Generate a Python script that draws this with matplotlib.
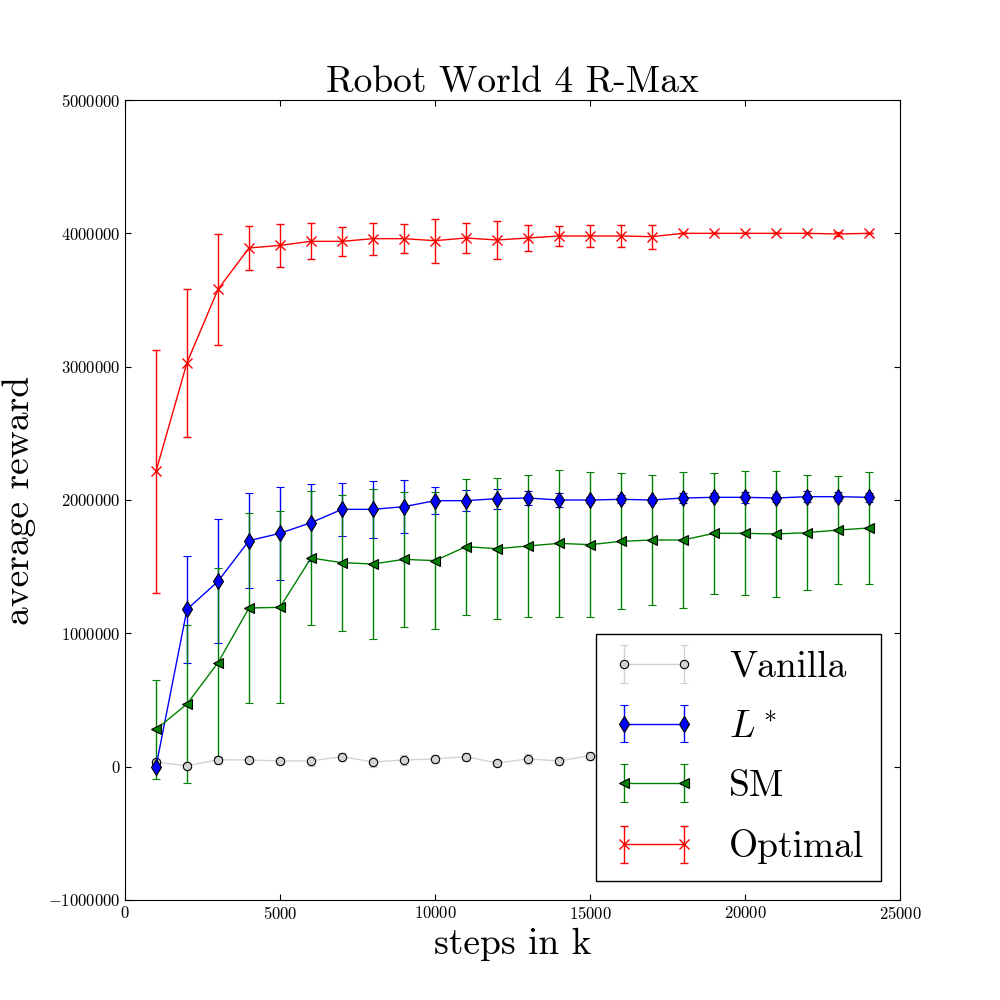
import numpy as np
import matplotlib
matplotlib.use("Agg")
import matplotlib.pyplot as plt

# Computer Modern look, like the old LaTeX-rendered figure
plt.rcParams['font.family'] = 'serif'
plt.rcParams['font.serif'] = ['cmr10', 'DejaVu Serif']
plt.rcParams['mathtext.fontset'] = 'cm'
plt.rcParams['axes.formatter.use_mathtext'] = True
plt.rcParams['xtick.direction'] = 'in'
plt.rcParams['ytick.direction'] = 'in'
plt.rcParams['xtick.top'] = True
plt.rcParams['ytick.right'] = True
plt.rcParams['xtick.major.size'] = 4
plt.rcParams['ytick.major.size'] = 4
plt.rcParams['xtick.labelsize'] = 12
plt.rcParams['ytick.labelsize'] = 12

# =============================================================================
# DATA (rewards in millions)
# =============================================================================
steps = [1000, 2000, 3000, 4000, 5000, 6000, 7000, 8000, 9000, 10000, 11000, 12000,
         13000, 14000, 15000, 16000, 17000, 18000, 19000, 20000, 21000, 22000, 23000, 24000]

vanilla_mean = [0.035, 0.007, 0.052, 0.050, 0.043, 0.043, 0.075, 0.035, 0.050, 0.058, 0.075, 0.027,
                0.058, 0.043, 0.082, 0.060, 0.070, 0.050, 0.065, 0.055, 0.070, 0.060, 0.050, 0.065]
vanilla_err = [0.02, 0.02, 0.03, 0.02, 0.02, 0.04, 0.03, 0.04, 0.04, 0.03, 0.03, 0.02,
               0.04, 0.03, 0.03, 0.03, 0.03, 0.03, 0.03, 0.03, 0.03, 0.03, 0.03, 0.03]

lstar_mean = [0.000, 1.180, 1.390, 1.695, 1.750, 1.830, 1.930, 1.930, 1.950, 1.995, 1.995, 2.010,
              2.015, 2.000, 2.000, 2.005, 2.000, 2.015, 2.020, 2.020, 2.015, 2.025, 2.025, 2.020]
lstar_err = [0.02, 0.400, 0.465, 0.355, 0.350, 0.290, 0.200, 0.215, 0.200, 0.100, 0.080, 0.075,
             0.050, 0.050, 0.025, 0.030, 0.020, 0.040, 0.030, 0.040, 0.030, 0.040, 0.035, 0.035]

sm_mean = [0.280, 0.470, 0.780, 1.190, 1.195, 1.565, 1.530, 1.520, 1.555, 1.545, 1.650, 1.635,
           1.655, 1.675, 1.665, 1.690, 1.700, 1.700, 1.750, 1.750, 1.745, 1.755, 1.775, 1.790]
sm_err = [0.370, 0.590, 0.710, 0.710, 0.720, 0.500, 0.510, 0.565, 0.505, 0.515, 0.510, 0.530,
          0.535, 0.550, 0.545, 0.510, 0.490, 0.510, 0.455, 0.465, 0.470, 0.430, 0.405, 0.420]

optimal_mean = [2.215, 3.030, 3.580, 3.890, 3.910, 3.940, 3.940, 3.960, 3.960, 3.945, 3.965, 3.950,
                3.965, 3.980, 3.980, 3.980, 3.975, 4.000, 4.000, 4.000, 4.000, 4.000, 3.995, 4.000]
optimal_err = [0.910, 0.555, 0.415, 0.165, 0.160, 0.135, 0.110, 0.120, 0.110, 0.165, 0.110, 0.145,
               0.100, 0.075, 0.080, 0.080, 0.090, 0.000, 0.000, 0.000, 0.000, 0.000, 0.012, 0.000]

series = [
    ("Vanilla", vanilla_mean, vanilla_err, 'lightgray', 'o', 6),
    ("$L^*$", lstar_mean, lstar_err, 'b', 'd', 8),
    ("SM", sm_mean, sm_err, 'g', '<', 7),
    ("Optimal", optimal_mean, optimal_err, 'r', 'x', 7),
]

# =============================================================================
# PLOT
# =============================================================================
fig = plt.figure(figsize=(10, 10), dpi=100)
ax = fig.add_axes([0.125, 0.1, 0.775, 0.8])

for label, mean, err, color, marker, ms in series:
    y = np.array(mean) * 1e6
    e = np.array(err) * 1e6
    ax.errorbar(steps, y, yerr=e, color=color, ecolor=color, marker=marker,
                markersize=ms, markerfacecolor=color,
                markeredgecolor=('black' if marker != 'x' else color),
                markeredgewidth=(0.8 if marker != 'x' else 1.0),
                linewidth=1.0, elinewidth=1.0, capsize=3, label=label)

ax.set_xlim(0, 25000)
ax.set_ylim(-1000000, 5000000)
ax.set_xticks(np.arange(0, 25001, 5000))
ax.set_yticks(np.arange(-1000000, 5000001, 1000000))
ax.ticklabel_format(style='plain', useOffset=False)

ax.set_title("Robot World 4 R-Max", fontsize=27)
ax.set_xlabel("steps in k", fontsize=27)
ax.set_ylabel("average reward", fontsize=27, labelpad=8)

leg = ax.legend(loc='lower right', fontsize=27, numpoints=2, fancybox=False,
                framealpha=1.0, handlelength=2.2, handletextpad=0.9,
                borderpad=0.45, labelspacing=0.7, borderaxespad=0.5)
leg.get_frame().set_edgecolor('black')
leg.get_frame().set_linewidth(1.0)

fig.savefig("out.png", dpi=100)
